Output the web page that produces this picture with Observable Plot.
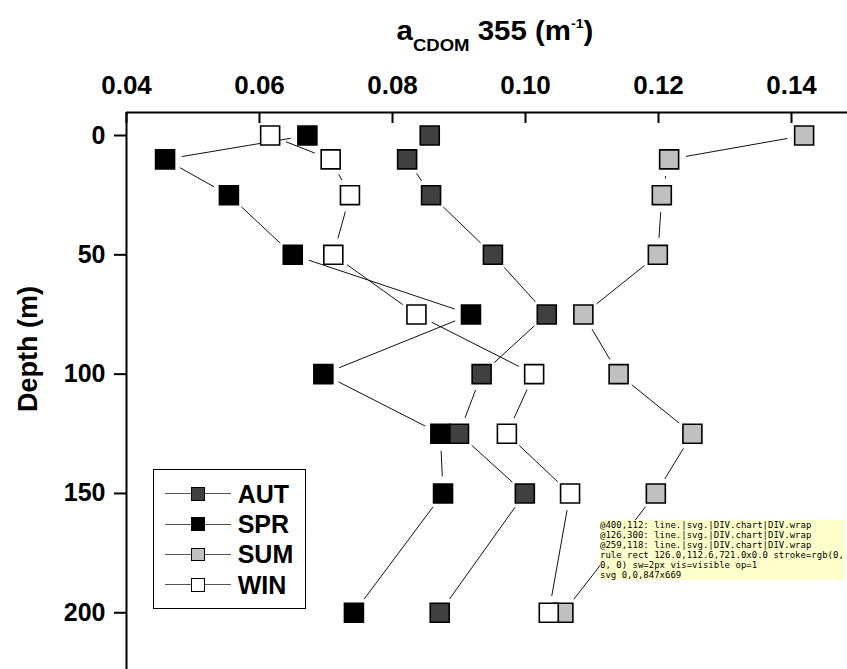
<!DOCTYPE html>
<html><head><meta charset="utf-8">
<script src="https://cdn.jsdelivr.net/npm/d3@7"></script>
<script src="https://cdn.jsdelivr.net/npm/@observablehq/plot@0.6"></script>
<style>
html,body{margin:0;padding:0;background:#fff;overflow:hidden}
#wrap{position:relative;width:847px;height:669px;font-family:'Liberation Sans',Arial,sans-serif;font-weight:bold;color:#000}
#chart svg{display:block}
#title{position:absolute;left:294.5px;top:17.85px;width:400px;text-align:center;font-size:27px;line-height:27px;white-space:pre;transform:scaleX(1.09);transform-origin:50% 50%}
#title sub{font-size:17px;vertical-align:-11px;line-height:0}
#title sup{font-size:13px;vertical-align:12px;line-height:0}
.abs{position:absolute;box-sizing:border-box}
#dbg{position:absolute;left:600px;top:520px;width:245px;font:9px monospace;font-weight:normal;white-space:pre-wrap;word-break:break-all;background:rgba(255,255,200,0.95)}
</style></head><body><div id="wrap"><div id="chart"></div>
<div id="title">a<sub>CDOM</sub> 355 (m<sup>-1</sup>)</div>
<div id="legend"></div><div id="dbg"></div></div>
<script>
const depths = [0, 10, 25, 50, 75, 100, 125, 150, 200];
const aut = [0.0856, 0.0822, 0.0858, 0.0951, 0.1032, 0.0934, 0.0900, 0.0999, 0.0871];
const spr = [0.0672, 0.0458, 0.0554, 0.0650, 0.0918, 0.0696, 0.0872, 0.0876, 0.0742];
const sum = [0.1419, 0.1216, 0.1205, 0.1199, 0.1087, 0.1140, 0.1251, 0.1196, 0.1057];
const win = [0.0616, 0.0707, 0.0736, 0.0711, 0.0836, 0.1013, 0.0972, 0.1067, 0.1035];
const seasons = ["AUT", "SPR", "SUM", "WIN"];
const fills = ["#404040", "#000000", "#c0c0c0", "#ffffff"];
const xTicks = [0.04, 0.06, 0.08, 0.10, 0.12, 0.14];
const yTicks = [0, 50, 100, 150, 200];
const xDomain = [0.04, 0.15];
const yDomain = [-9.6, 235];
const seriesValues = [aut, spr, sum, win];
const series = seasons.map((name, i) => ({
  name, fill: fills[i],
  points: depths.map((d, j) => ({depth: d, v: seriesValues[i][j]})),
  segs: depths.slice(1).map((d, j) => ({x1: seriesValues[i][j], y1: depths[j], x2: seriesValues[i][j + 1], y2: d}))
}));
const W = 847, H = 669;
const font = "'Liberation Sans', Arial, sans-serif";
const marks = [
  Plot.ruleY([yDomain[0]], {strokeWidth: 2, stroke: "black"}),
  Plot.ruleX([xDomain[0]], {strokeWidth: 2, stroke: "black"}),
  Plot.tickX(xTicks, {x: d => d, insetBottom: H - 112 - 11, strokeWidth: 2, stroke: "black"}),
  Plot.axisX({anchor: "top", ticks: xTicks, tickSize: 0, tickPadding: 19, tickFormat: d => d.toFixed(2),
    fontSize: 26, fontWeight: "bold", fill: "black", label: null}),
  Plot.axisY({anchor: "left", ticks: yTicks, tickSize: 12, tickPadding: 9, strokeWidth: 2, stroke: "black",
    fontSize: 25, fontWeight: "bold", fill: "black", label: null}),
  Plot.text(["Depth (m)"], {text: d => d, frameAnchor: "left", dx: -98, dy: 21, rotate: -90,
    fontSize: 27, fontWeight: "bold", fill: "black"})
];
for (const s of series) {
  marks.push(Plot.arrow(s.segs, {x1: "x1", y1: "y1", x2: "x2", y2: "y2", headLength: 0,
    insetStart: 17, insetEnd: 17, stroke: "#111", strokeWidth: 1, strokeLinecap: "butt"}));
}
for (const s of series) {
  marks.push(Plot.dot(s.points, {x: "v", y: "depth", symbol: "square", r: 10.7,
    fill: s.fill, stroke: "black", strokeWidth: 1.6}));
}
const plot = Plot.plot({
  width: W, height: H,
  marginTop: 112, marginLeft: 126, marginRight: 0, marginBottom: 0,
  x: {domain: xDomain, range: [126, 857.5]},
  y: {domain: yDomain, range: [112.1, 695.8]},
  style: {fontFamily: font, background: "white", color: "black"},
  marks
});
document.getElementById("chart").appendChild(plot);
const legend = document.getElementById("legend");
function box(css, text) {
  const el = document.createElement("div");
  el.className = "abs";
  el.style.cssText = css;
  if (text) el.textContent = text;
  legend.appendChild(el);
}
box("left:152.55px;top:469.25px;width:153.9px;height:139.8px;border:1.5px solid #000;background:#fff");
series.forEach((s, i) => {
  const cy = 493.7 + i * 30.4;
  box(`left:165px;top:${cy - 0.5}px;width:66px;height:1px;background:#555`);
  box(`left:191.4px;top:${cy - 6.9}px;width:13.8px;height:13.8px;border:1.2px solid #000;background:${s.fill}`);
  box(`left:237.7px;top:${cy + 9 - 21.17}px;font-size:25px;line-height:25px;white-space:pre`, s.name);
});
let s = "";
try {
  for (const [px,py] of [[400,112],[126,300],[259,118]]) {
    s += `@${px},${py}: ` + document.elementsFromPoint(px,py).slice(0,4).map(e => e.tagName + "." + (e.id||"") ).join("|") + "\n";
  }
  const ln = plot.querySelector('g[aria-label="rule"] line');
  const r = ln.getBoundingClientRect();
  const cs = getComputedStyle(ln);
  s += `rule rect ${r.x.toFixed(1)},${r.y.toFixed(1)},${r.width.toFixed(1)}x${r.height.toFixed(1)} stroke=${cs.stroke} sw=${cs.strokeWidth} vis=${cs.visibility} op=${cs.opacity}\n`;
  const pr = plot.getBoundingClientRect();
  s += `svg ${pr.x},${pr.y},${pr.width}x${pr.height}`;
} catch (e) { s += "ERR " + e.message; }
document.getElementById("dbg").textContent = s;
</script></body></html>
